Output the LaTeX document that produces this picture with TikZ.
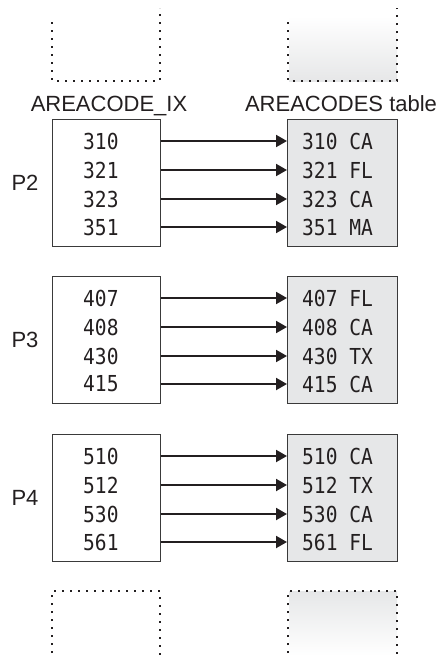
\documentclass[tikz,border=0pt]{standalone}
\usepackage{fontspec}
\setmainfont{Liberation Sans}
\newfontfamily\monof[FakeStretch=0.89]{DejaVu Sans Mono}
\usetikzlibrary{arrows.meta}
\definecolor{ink}{HTML}{231F20}
\definecolor{edge}{HTML}{3A3A3A}
\definecolor{boxgray}{HTML}{E6E7E8}
\tikzset{
  lbox/.style={draw=edge, line width=0.9pt, minimum width=108pt, minimum height=127pt, inner sep=0pt, anchor=north west},
  rbox/.style={lbox, fill=boxgray, minimum width=110pt},
  numtxt/.style={anchor=west, inner sep=0pt, text=ink, font=\fontsize{22}{26}\monof},
  lbl/.style={text=ink, font=\fontsize{22}{26}\selectfont, inner sep=0pt},
  arr/.style={draw=ink, line width=2pt, -{Triangle[length=11pt,width=12pt]}},
  dotline/.style={draw=ink, line width=1.8pt, dash pattern=on 1.8pt off 6.2pt}
}
\begin{document}
\begin{tikzpicture}[x=1pt,y=-1pt]
\useasboundingbox (0,0) rectangle (446,664);

% top dotted boxes
\shade[top color=white, bottom color=boxgray] (289,16) rectangle (397,81);
\draw[dotline] (52,22) -- (52,81) -- (160,81) -- (160,8);
\draw[dotline] (288,22) -- (288,81) -- (397,81) -- (397,8);

% headers
\node[lbl, anchor=base] (hix) at (109,111) {AREACODE\_IX};
\node[lbl, anchor=base] (htab) at (341,111) {AREACODES table};

% groups
\foreach \g/\top/\a/\b/\c/\d/\sa/\sb/\sc/\sd in {
  2/119/310/321/323/351/CA/FL/CA/MA,
  3/276/407/408/430/415/FL/CA/TX/CA,
  4/434/510/512/530/561/CA/TX/CA/FL}{
  \node[lbox] (L\g) at (52,\top) {};
  \node[rbox] (R\g) at (287,\top) {};
  \node[lbl] (P\g) at (25,\top+63.5) {P\g};
  \node[numtxt] (l\g a) at (83,\top+22) {\a};
  \node[numtxt] (l\g b) at (83,\top+51) {\b};
  \node[numtxt] (l\g c) at (83,\top+80) {\c};
  \node[numtxt] (l\g d) at (83,\top+108) {\d};
  \node[numtxt] (r\g a) at (302,\top+22) {\a\ \sa};
  \node[numtxt] (r\g b) at (302,\top+51) {\b\ \sb};
  \node[numtxt] (r\g c) at (302,\top+80) {\c\ \sc};
  \node[numtxt] (r\g d) at (302,\top+108) {\d\ \sd};
  \foreach \k in {a,b,c,d}{
    \draw[arr] (L\g.east |- l\g\k.west) -- (R\g.west |- r\g\k.west);
  }
}

% bottom dotted boxes
\shade[top color=boxgray, bottom color=white] (289,591) rectangle (397,656);
\draw[dotline] (52,653) -- (52,591) -- (160,591) -- (160,658);
\draw[dotline] (288,653) -- (288,591) -- (397,591) -- (397,658);
\end{tikzpicture}
\end{document}
